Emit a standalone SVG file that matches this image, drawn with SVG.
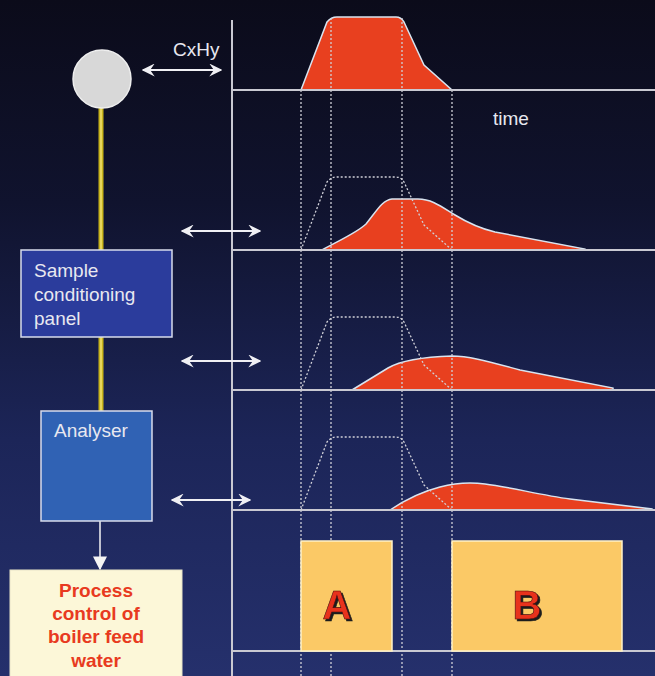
<svg xmlns="http://www.w3.org/2000/svg" width="655" height="676" viewBox="0 0 655 676">
<defs>
<linearGradient id="bg" x1="0" y1="0" x2="0" y2="1">
<stop offset="0" stop-color="#0b0b1a"/>
<stop offset="0.3" stop-color="#10132e"/>
<stop offset="0.65" stop-color="#1c2558"/>
<stop offset="1" stop-color="#25306c"/>
</linearGradient>
<marker id="ah" viewBox="0 0 10 10" refX="9" refY="5" markerWidth="13" markerHeight="13" orient="auto-start-reverse" markerUnits="userSpaceOnUse">
<path d="M0,0 L10,5 L0,10 L3.5,5 Z" fill="#f0f0f4"/>
</marker>
<marker id="dh" viewBox="0 0 10 10" refX="9" refY="5" markerWidth="14" markerHeight="14" orient="auto" markerUnits="userSpaceOnUse">
<path d="M0,0 L10,5 L0,10 Z" fill="#f4f4f4"/>
</marker>
<path id="pulse" d="M301,90 L327,22 Q331,17 337,17 L396,17 Q401,17 404,22 L424,65 L452,90"/>
<filter id="sh" x="-20%" y="-20%" width="140%" height="140%">
<feDropShadow dx="2" dy="2" stdDeviation="0.6" flood-color="#1a1a1a"/>
</filter>
</defs>
<style>
.ax{stroke:#c9c9d2;stroke-width:2;fill:none}
.dot{stroke:#d0d0d8;stroke-width:1.3;stroke-dasharray:2 2;fill:none}
.red{fill:#e8401f;stroke:#d8e4f0;stroke-width:1.5}
.dbl{stroke:#f0f0f4;stroke-width:2;fill:none;marker-start:url(#ah);marker-end:url(#ah)}
.lbl{font-family:"Liberation Sans",Arial,sans-serif;fill:#e8e8f0;font-size:19px}
.pc{font-family:"Liberation Sans",Arial,sans-serif;fill:#e83a20;font-size:19px;font-weight:bold;text-anchor:middle}
.big{font-family:"Liberation Sans",Arial,sans-serif;fill:#e8301c;font-size:40px;font-weight:bold;text-anchor:middle;stroke:#401010;stroke-width:0.6}
.yl{stroke:#c8b41c;stroke-width:5}
.yl2{stroke:#f0e070;stroke-width:1.5}
</style>
<rect width="655" height="676" fill="url(#bg)"/>

<g id="signals">
<path class="red" d="M301,90 L327,22 Q331,17 337,17 L396,17 Q401,17 404,22 L424,65 L452,90 Z"/>
<path class="red" d="M322,250 C340,240 358,232 366,224 C376,212 382,200 392,199 L418,199 C432,199 442,207 455,215 C468,223 478,228 495,232 L585,249 L585,250 Z"/>
<path class="red" d="M352,390 C362,384 375,376 388,368 C400,361 420,357 452,356 C470,356 490,362 520,370 L613,388 L613,390 Z"/>
<path class="red" d="M390,510 C405,500 420,492 440,487 C455,483 470,482 485,484 C510,487 540,495 570,499 L652,509 L652,510 Z"/>
<use href="#pulse" class="dot" transform="translate(0,160)"/>
<use href="#pulse" class="dot" transform="translate(0,300)"/>
<use href="#pulse" class="dot" transform="translate(0,420)"/>
</g>

<g id="connectors">
<line class="dot" x1="301" y1="90" x2="301" y2="676"/>
<line class="dot" x1="331" y1="18" x2="331" y2="676"/>
<line class="dot" x1="402" y1="18" x2="402" y2="676"/>
<line class="dot" x1="452" y1="90" x2="452" y2="676"/>
<line class="ax" x1="232" y1="20" x2="232" y2="676"/>
<line class="ax" x1="232" y1="90" x2="655" y2="90"/>
<line class="ax" x1="232" y1="250" x2="655" y2="250"/>
<line class="ax" x1="232" y1="390" x2="655" y2="390"/>
<line class="ax" x1="232" y1="510" x2="655" y2="510"/>
<line class="ax" x1="232" y1="651" x2="655" y2="651"/>
<line class="dbl" x1="143" y1="70" x2="221" y2="70"/>
<line class="dbl" x1="182" y1="231" x2="260" y2="231"/>
<line class="dbl" x1="182" y1="361" x2="260" y2="361"/>
<line class="dbl" x1="172" y1="500" x2="250" y2="500"/>
<line class="yl" x1="101" y1="100" x2="101" y2="250"/>
<line class="yl2" x1="101" y1="100" x2="101" y2="250"/>
<line class="yl" x1="101" y1="337" x2="101" y2="411"/>
<line class="yl2" x1="101" y1="337" x2="101" y2="411"/>
<line x1="100" y1="521" x2="100" y2="569" stroke="#f4f4f4" stroke-width="1.5" marker-end="url(#dh)"/>
</g>

<g id="labels">
<text class="lbl" x="173" y="56">CxHy</text>
<text class="lbl" x="493" y="125">time</text>
</g>

<g id="source">
<circle cx="102" cy="79" r="29" fill="#d8d8d8" stroke="#eeeeee" stroke-width="1.5"/>
</g>

<g id="sample-panel">
<rect x="21" y="250" width="151" height="87" fill="#2b3c9c" stroke="#d8dcec" stroke-width="1.5"/>
<text class="lbl" x="34" y="277">Sample</text>
<text class="lbl" x="34" y="301">conditioning</text>
<text class="lbl" x="34" y="325">panel</text>
</g>

<g id="analyser">
<rect x="41" y="411" width="111" height="110" fill="#3062b4" stroke="#d8dcec" stroke-width="1.5"/>
<text class="lbl" x="54" y="437">Analyser</text>
</g>

<g id="process">
<rect x="10" y="570" width="172" height="110" fill="#fcf7d8" stroke="#e8e4c8" stroke-width="1"/>
<text class="pc" x="96" y="597">Process</text>
<text class="pc" x="96" y="620">control of</text>
<text class="pc" x="96" y="643">boiler feed</text>
<text class="pc" x="96" y="667">water</text>
</g>

<g id="box-a">
<rect x="301" y="541" width="91" height="110" fill="#fbc966" stroke="#fff2c8" stroke-width="1.5"/>
<text class="big" x="337" y="619" filter="url(#sh)">A</text>
</g>

<g id="box-b">
<rect x="452" y="541" width="170" height="110" fill="#fbc966" stroke="#fff2c8" stroke-width="1.5"/>
<text class="big" x="527" y="619" filter="url(#sh)">B</text>
</g>
</svg>
